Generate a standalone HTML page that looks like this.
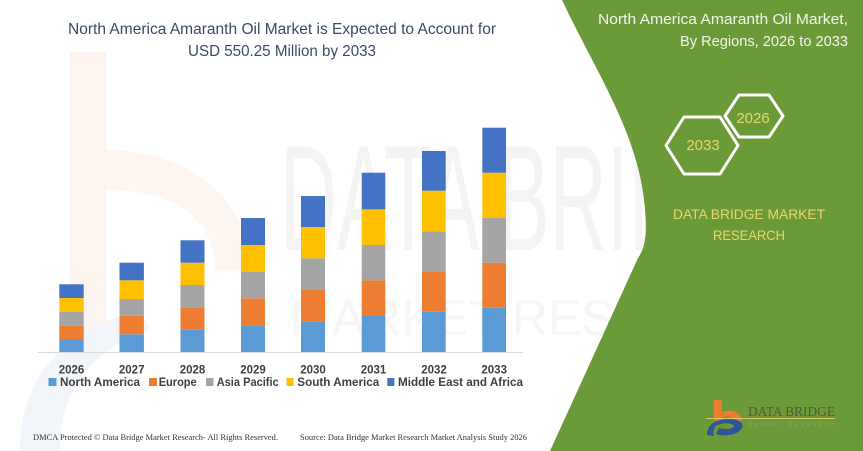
<!DOCTYPE html>
<html><head><meta charset="utf-8"><style>
html,body{margin:0;padding:0;background:#fff;}
svg{display:block;}
</style></head><body>
<svg width="863" height="451" viewBox="0 0 863 451" xmlns="http://www.w3.org/2000/svg">
<rect width="863" height="451" fill="#ffffff"/>
<!-- faint watermark -->
<rect x="70" y="52" width="36" height="280" fill="#fdf4ef"/>
<path d="M106 150 C190 150 250 200 250 270 L215 270 C215 215 170 190 106 190 Z" fill="#fdf6f1"/>
<path d="M20 451 C20 380 60 330 140 310 L150 330 C90 350 60 390 60 451 Z" fill="#f2f5f9"/>
<text x="280" y="250" font-family="Liberation Sans, sans-serif" font-size="150" fill="#f4f4f4" textLength="520" lengthAdjust="spacingAndGlyphs">DATA BRIDGE</text>
<text x="290" y="335" font-family="Liberation Sans, sans-serif" font-size="50" fill="#f6f6f6" textLength="500" lengthAdjust="spacing">MARKET RESEARCH</text>
<!-- green panel -->
<path d="M562 0 C595 70 636 130 644 200 C648 235 645 248 638 258 L550 451 L863 451 L863 0 Z" fill="#6b9b38"/>
<!-- left title -->
<text x="282" y="34" text-anchor="middle" font-family="Liberation Sans, sans-serif" font-size="16" fill="#3a4a6a" textLength="428" lengthAdjust="spacingAndGlyphs">North America Amaranth Oil Market is Expected to Account for</text>
<text x="282" y="56" text-anchor="middle" font-family="Liberation Sans, sans-serif" font-size="16" fill="#3a4a6a" textLength="188" lengthAdjust="spacingAndGlyphs">USD 550.25 Million by 2033</text>
<!-- right title -->
<text x="848" y="24" text-anchor="end" font-family="Liberation Sans, sans-serif" font-size="15" fill="#f4f4f0" textLength="250" lengthAdjust="spacingAndGlyphs">North America Amaranth Oil Market,</text>
<text x="848" y="46" text-anchor="end" font-family="Liberation Sans, sans-serif" font-size="15" fill="#f4f4f0" textLength="168" lengthAdjust="spacingAndGlyphs">By Regions, 2026 to 2033</text>
<!-- hexagons -->
<polygon points="725,116 739,95 769,95 783,116 769,137 739,137" fill="none" stroke="#ffffff" stroke-width="3" stroke-linejoin="round"/>
<polygon points="666,145.5 684,117 720,117 738,145.5 720,174 684,174" fill="none" stroke="#ffffff" stroke-width="3" stroke-linejoin="round"/>
<text x="753" y="123" text-anchor="middle" font-family="Liberation Sans, sans-serif" font-size="15" fill="#e9d56c">2026</text>
<text x="703" y="150" text-anchor="middle" font-family="Liberation Sans, sans-serif" font-size="15" fill="#e9d56c">2033</text>
<text x="749" y="219" text-anchor="middle" font-family="Liberation Sans, sans-serif" font-size="14" fill="#e9d56c" textLength="152" lengthAdjust="spacingAndGlyphs">DATA BRIDGE MARKET</text>
<text x="749" y="240" text-anchor="middle" font-family="Liberation Sans, sans-serif" font-size="14" fill="#e9d56c" textLength="72" lengthAdjust="spacingAndGlyphs">RESEARCH</text>
<!-- axis -->
<line x1="38" y1="352.5" x2="523" y2="352.5" stroke="#d9d9d9" stroke-width="1"/>
<!-- bars -->
<g>
<rect x="59.3" y="339" width="24.4" height="13" fill="#5b9bd5"/>
<rect x="59.3" y="325.7" width="24.4" height="13.3" fill="#ed7d31"/>
<rect x="59.3" y="312" width="24.4" height="13.7" fill="#a5a5a5"/>
<rect x="59.3" y="298" width="24.4" height="14" fill="#ffc000"/>
<rect x="59.3" y="284.3" width="24.4" height="13.7" fill="#4472c4"/>

<rect x="119.5" y="334.3" width="24.4" height="17.7" fill="#5b9bd5"/>
<rect x="119.5" y="315.7" width="24.4" height="18.6" fill="#ed7d31"/>
<rect x="119.5" y="299" width="24.4" height="16.7" fill="#a5a5a5"/>
<rect x="119.5" y="280.3" width="24.4" height="18.7" fill="#ffc000"/>
<rect x="119.5" y="262.7" width="24.4" height="17.6" fill="#4472c4"/>

<rect x="180.5" y="329.7" width="24" height="22.3" fill="#5b9bd5"/>
<rect x="180.5" y="307.3" width="24" height="22.4" fill="#ed7d31"/>
<rect x="180.5" y="285" width="24" height="22.3" fill="#a5a5a5"/>
<rect x="180.5" y="262.7" width="24" height="22.3" fill="#ffc000"/>
<rect x="180.5" y="240.3" width="24" height="22.4" fill="#4472c4"/>

<rect x="241" y="325.3" width="24" height="26.7" fill="#5b9bd5"/>
<rect x="241" y="298.3" width="24" height="27" fill="#ed7d31"/>
<rect x="241" y="272" width="24" height="26.3" fill="#a5a5a5"/>
<rect x="241" y="245" width="24" height="27" fill="#ffc000"/>
<rect x="241" y="218" width="24" height="27" fill="#4472c4"/>

<rect x="301" y="321.3" width="24" height="30.7" fill="#5b9bd5"/>
<rect x="301" y="289.3" width="24" height="32" fill="#ed7d31"/>
<rect x="301" y="258.3" width="24" height="31" fill="#a5a5a5"/>
<rect x="301" y="227" width="24" height="31.3" fill="#ffc000"/>
<rect x="301" y="196" width="24" height="31" fill="#4472c4"/>

<rect x="361.7" y="316" width="23.6" height="36" fill="#5b9bd5"/>
<rect x="361.7" y="280.3" width="23.6" height="35.7" fill="#ed7d31"/>
<rect x="361.7" y="245" width="23.6" height="35.3" fill="#a5a5a5"/>
<rect x="361.7" y="209.3" width="23.6" height="35.7" fill="#ffc000"/>
<rect x="361.7" y="172.7" width="23.6" height="36.6" fill="#4472c4"/>

<rect x="422" y="311.7" width="23.7" height="40.3" fill="#5b9bd5"/>
<rect x="422" y="272" width="23.7" height="39.7" fill="#ed7d31"/>
<rect x="422" y="231.3" width="23.7" height="40.7" fill="#a5a5a5"/>
<rect x="422" y="190.7" width="23.7" height="40.6" fill="#ffc000"/>
<rect x="422" y="151" width="23.7" height="39.7" fill="#4472c4"/>

<rect x="482.3" y="307.7" width="23.7" height="44.3" fill="#5b9bd5"/>
<rect x="482.3" y="262.7" width="23.7" height="45" fill="#ed7d31"/>
<rect x="482.3" y="217.7" width="23.7" height="45" fill="#a5a5a5"/>
<rect x="482.3" y="172.7" width="23.7" height="45" fill="#ffc000"/>
<rect x="482.3" y="127.7" width="23.7" height="45" fill="#4472c4"/>
</g>
<!-- year labels -->
<g font-family="Liberation Sans, sans-serif" font-size="11.5" font-weight="bold" fill="#404040" text-anchor="middle">
<text x="71.5" y="373.5">2026</text>
<text x="131.7" y="373.5">2027</text>
<text x="192.5" y="373.5">2028</text>
<text x="253" y="373.5">2029</text>
<text x="313" y="373.5">2030</text>
<text x="373.5" y="373.5">2031</text>
<text x="434" y="373.5">2032</text>
<text x="494.2" y="373.5">2033</text>
</g>
<!-- legend -->
<rect x="48.5" y="378" width="8" height="8" fill="#5b9bd5"/>
<rect x="149" y="378" width="8" height="8" fill="#ed7d31"/>
<rect x="206" y="378" width="7.5" height="8" fill="#a5a5a5"/>
<rect x="286.5" y="378" width="7" height="8" fill="#ffc000"/>
<rect x="387.3" y="378" width="7" height="8" fill="#4472c4"/>
<g font-family="Liberation Sans, sans-serif" font-size="11.5" font-weight="bold" fill="#404040">
<text x="60" y="386" textLength="80" lengthAdjust="spacingAndGlyphs">North America</text>
<text x="158.7" y="386" textLength="38" lengthAdjust="spacingAndGlyphs">Europe</text>
<text x="216.7" y="386" textLength="62" lengthAdjust="spacingAndGlyphs">Asia Pacific</text>
<text x="297.3" y="386" textLength="82" lengthAdjust="spacingAndGlyphs">South America</text>
<text x="398" y="386" textLength="125" lengthAdjust="spacingAndGlyphs">Middle East and Africa</text>
</g>
<!-- footer -->
<text x="33" y="440" font-family="Liberation Serif, serif" font-size="8.5" fill="#333" textLength="245" lengthAdjust="spacingAndGlyphs">DMCA Protected © Data Bridge Market Research-  All Rights Reserved.</text>
<text x="300" y="440" font-family="Liberation Serif, serif" font-size="8.5" fill="#333" textLength="227" lengthAdjust="spacingAndGlyphs">Source: Data Bridge Market Research  Market Analysis Study 2026</text>
<!-- bottom-right logo -->
<path d="M714 400 L722 400 L722 412 C732 408 742 413 742 421 L734 421 C734 417 728 415 722 418 L722 421 L714 421 Z" fill="#ed7d31"/>
<path d="M707 435 C707 424 716 419 730 419 C740 419 744 424 742 428 C738 435 725 437 716 434 L719 428 C726 430 733 429 734 426 C733 423 722 422 716 426 C713 429 713 433 714 436 Z" fill="#2f5597"/>
<line x1="706" y1="418.5" x2="835" y2="418.5" stroke="#d9c96a" stroke-width="1"/>
<text x="748" y="416" font-family="Liberation Serif, serif" font-size="14" fill="#4d5a3a" textLength="87" lengthAdjust="spacingAndGlyphs">DATA BRIDGE</text>
<text x="748" y="426" font-family="Liberation Sans, sans-serif" font-size="5" fill="#8aa070" textLength="87" lengthAdjust="spacing">MARKET RESEARCH</text>
</svg>
</body></html>
